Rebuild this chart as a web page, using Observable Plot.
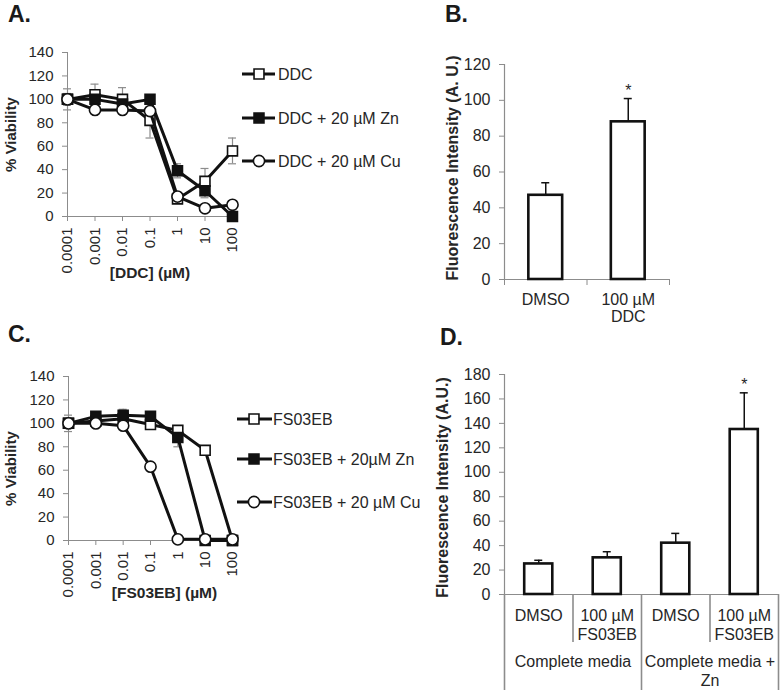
<!DOCTYPE html>
<html><head><meta charset="utf-8">
<script src="https://cdn.jsdelivr.net/npm/d3@7"></script>
<script src="https://cdn.jsdelivr.net/npm/@observablehq/plot@0.6"></script>
<style>
body{margin:0;background:#fff;font-family:"Liberation Sans",Arial,sans-serif;}
#fig{position:relative;width:781px;height:690px;overflow:hidden;background:#fff;}
#fig svg{position:absolute;}
</style></head><body><div id="fig"></div>
<script>
// ---------- data ----------
const doses = ["0.0001","0.001","0.01","0.1","1","10","100"];

// Panel A
const ddcNames = ["DDC", "DDC + 20 µM Zn", "DDC + 20 µM Cu"];
const ddcMean   = [100, 104, 100, 82, 15, 30, 56];
const ddcErr    = [9, 9, 10, 15, 3, 11, 11];
const ddcZnMean = [100, 100, 96, 100, 39, 22, 0];
const ddcZnErr  = [5, 4, 4, 3, 6, 6, 2];
const ddcCuMean = [100, 91, 91, 90, 17, 7, 10];
const ddcCuErr  = [2, 2, 2, 2, 2, 2, 2];

// Panel B
const bCats  = ["DMSO", "100 µM\nDDC"];
const bMeans = [47, 88];
const bErrs  = [7, 13];
const bStars = [false, true];

// Panel C
const fsNames = ["FS03EB", "FS03EB + 20µM Zn", "FS03EB + 20 µM Cu"];
const fsMean   = [100, 102, 104, 99, 94, 77, 0];
const fsErr    = [7, 3, 3, 2, 3, 3, 0];
const fsZnMean = [100, 106, 107, 106, 88, 0, 0];
const fsZnErr  = [4, 3, 5, 2, 8, 0, 0];
const fsCuMean = [100, 100, 98, 63, 1, 1, 1];
const fsCuErr  = [2, 2, 2, 2, 0, 0, 0];

// Panel D
const dCats   = ["DMSO", "100 µM\nFS03EB", "DMSO", "100 µM\nFS03EB"];
const dMeans  = [25, 30, 42, 135];
const dErrs   = [3, 5, 8, 30];
const dStars  = [false, false, false, true];
const dGroups = ["Complete media", "Complete media +\nZn"];

// ---------- styles ----------
const FONT = "Liberation Sans, Arial, sans-serif";
const AXIS = "#8c8c8c";
const TXT = "#262626";
const INK = "#111";
const symbols = ["square", "square", "circle"];
const fills = ["white", INK, "white"];

const fig = d3.select("#fig");
function place(svg, left, top) {
  svg.style.left = left + "px";
  svg.style.top = top + "px";
  svg.style.background = "transparent";
  svg.style.maxWidth = "none";
  svg.style.overflow = "visible";
  fig.node().appendChild(svg);
}

function viability({names, means, errs, yLabel, xLabel, height, marginTop, marginBottom, marginLeft, ylDx, ylDy, xlDx, xlDy}) {
  const rows = names.flatMap((s, k) => means[k].map((v, i) => ({s, k, i, v, e: errs[k][i]})));
  const withErr = rows.filter(d => d.e > 0);
  const marks = [
    Plot.ruleY([0], {stroke: AXIS}),
    Plot.ruleX([0], {stroke: AXIS}),
    Plot.axisY({ticks: d3.range(0, 141, 20), tickSize: 5, tickPadding: 9, stroke: AXIS, fill: TXT, label: null, fontSize: 15}),
    Plot.axisX({ticks: d3.range(doses.length), tickFormat: i => doses[i], tickRotate: -90, tickSize: 5, tickPadding: 6, stroke: AXIS, fill: TXT, label: null, fontSize: 15}),
    Plot.ruleX(withErr, {x: "i", y1: d => Math.max(0, d.v - d.e), y2: d => d.v + d.e, stroke: AXIS, strokeWidth: 1.2}),
    Plot.ruleY(withErr, {x1: "i", x2: "i", y: d => d.v + d.e, insetLeft: -4, insetRight: -4, stroke: AXIS, strokeWidth: 1.2}),
    Plot.ruleY(withErr, {x1: "i", x2: "i", y: d => Math.max(0, d.v - d.e), insetLeft: -4, insetRight: -4, stroke: AXIS, strokeWidth: 1.2})
  ];
  names.forEach((s, k) => {
    const r = rows.filter(d => d.k === k);
    marks.push(Plot.line(r, {x: "i", y: "v", stroke: INK, strokeWidth: 3}));
    marks.push(Plot.dot(r, {x: "i", y: "v", symbol: symbols[k], r: 5.6, fill: fills[k], stroke: INK, strokeWidth: 1.6}));
  });
  marks.push(Plot.text([yLabel], {frameAnchor: "left", textAnchor: "middle", dx: ylDx, dy: ylDy, rotate: -90, fontSize: 15, fontWeight: "bold", fill: TXT}));
  marks.push(Plot.text([xLabel], {frameAnchor: "bottom", dx: xlDx, dy: xlDy, fontSize: 15.5, fontWeight: "bold", fill: TXT}));
  return Plot.plot({
    width: 240, height, marginLeft, marginRight: 8, marginTop, marginBottom,
    x: {type: "linear", domain: [0, doses.length - 1]},
    y: {domain: [0, 140]},
    style: {fontFamily: FONT, fontSize: "15px", color: TXT},
    marks
  });
}

function barPanel({cats, means, errs, stars, yMax, yLabel, width, height, margins, ylDx, ylDy, lineHeight, extra}) {
  const rows = cats.map((c, i) => ({c, i, v: means[i], e: errs[i], star: stars[i]}));
  const n = cats.length;
  const marks = [
    Plot.ruleY([0], {stroke: AXIS, strokeWidth: 1.2}),
    Plot.ruleX([0], {stroke: AXIS, strokeWidth: 1.2}),
    Plot.axisY({ticks: d3.range(0, yMax + 1, 20), tickSize: 5, tickPadding: 9, stroke: AXIS, fill: TXT, label: null, fontSize: 16}),
    ...extra,
    Plot.ruleX(rows, {x: d => d.i + 0.5, y1: "v", y2: d => d.v + d.e, stroke: INK, strokeWidth: 1.5}),
    Plot.ruleY(rows, {x1: d => d.i + 0.5, x2: d => d.i + 0.5, y: d => d.v + d.e, insetLeft: -4, insetRight: -4, stroke: INK, strokeWidth: 1.5}),
    Plot.rectY(rows, {x1: d => d.i + 0.5 - 0.205, x2: d => d.i + 0.5 + 0.205, y1: 0, y2: "v", fill: "white", stroke: INK, strokeWidth: 2.6}),
    Plot.text(rows.filter(d => d.star), {x: d => d.i + 0.5, y: d => d.v + d.e, text: () => "*", dy: -8, fontSize: 16, fill: TXT}),
    Plot.text(rows, {x: d => d.i + 0.5, y: 0, text: "c", dy: 13, lineAnchor: "top", lineHeight, fontSize: 16, fill: TXT}),
    Plot.text([yLabel], {frameAnchor: "left", textAnchor: "middle", dx: ylDx, dy: ylDy, rotate: -90, fontSize: 16, fontWeight: "bold", fill: TXT})
  ];
  return Plot.plot({
    width, height, ...margins,
    x: {type: "linear", domain: [0, n]},
    y: {domain: [0, yMax]},
    style: {fontFamily: FONT, fontSize: "16px", color: TXT},
    marks
  });
}

// Panel A
place(viability({
  names: ddcNames, means: [ddcMean, ddcZnMean, ddcCuMean], errs: [ddcErr, ddcZnErr, ddcCuErr],
  yLabel: "% Viability", xLabel: "[DDC] (µM)",
  height: 290, marginTop: 52, marginBottom: 74, marginLeft: 67, ylDx: -56, ylDy: 0, xlDx: 0, xlDy: 61
}), 0, 0);

// Panel C
place(viability({
  names: fsNames, means: [fsMean, fsZnMean, fsCuMean], errs: [fsErr, fsZnErr, fsCuErr],
  yLabel: "% Viability", xLabel: "[FS03EB] (µM)",
  height: 300, marginTop: 56, marginBottom: 80, marginLeft: 68, ylDx: -57, ylDy: 10, xlDx: 14, xlDy: 57
}), 0, 320);

// Panel B
place(barPanel({
  cats: bCats, means: bMeans, errs: bErrs, stars: bStars, yMax: 120,
  yLabel: "Fluorescence Intensity (A. U.)", width: 391, height: 330,
  margins: {marginLeft: 114, marginRight: 112, marginTop: 64, marginBottom: 51},
  ylDx: -52, ylDy: -4, lineHeight: 1.08,
  extra: [Plot.axisX({ticks: d3.range(bCats.length + 1), tickFormat: () => "", tickSize: 6, stroke: AXIS, label: null})]
}), 390, 0);

// Panel D
const groupRows = dGroups.map((g, j) => ({g, x: j * 2 + 1}));
place(barPanel({
  cats: dCats, means: dMeans, errs: dErrs, stars: dStars, yMax: 180,
  yLabel: "Fluorescence Intensity (A.U.)", width: 391, height: 370,
  margins: {marginLeft: 114, marginRight: 3, marginTop: 54, marginBottom: 96},
  ylDx: -62, ylDy: 3, lineHeight: 1.18,
  extra: [
    Plot.axisX({ticks: [1, 3], tickFormat: () => "", tickSize: 48, stroke: AXIS, strokeWidth: 1.6, label: null}),
    Plot.axisX({ticks: [0, 2, 4], tickFormat: () => "", tickSize: 96, stroke: AXIS, strokeWidth: 1.6, label: null}),
    Plot.text(groupRows, {x: "x", y: 0, text: "g", dy: 59, lineAnchor: "top", lineHeight: 1.18, fontSize: 16, fill: TXT})
  ]
}), 390, 320);

// ---------- overlay: panel letters and legends ----------
const ov = fig.append("svg").attr("width", 781).attr("height", 690)
  .style("left", "0px").style("top", "0px").style("pointer-events", "none")
  .style("font-family", FONT);

const letters = [["A.", 8, 22], ["B.", 445, 22], ["C.", 8, 342], ["D.", 440, 345]];
ov.selectAll("text.letter").data(letters).join("text")
  .attr("class", "letter").attr("x", d => d[1]).attr("y", d => d[2])
  .attr("font-size", 23).attr("font-weight", "bold").attr("fill", "#1a1a1a").text(d => d[0]);

function legend(names, x1, x2, mx, tx, ys) {
  const g = ov.append("g");
  names.forEach((name, k) => {
    const y = ys[k];
    g.append("line").attr("x1", x1).attr("x2", x2).attr("y1", y).attr("y2", y)
      .attr("stroke", INK).attr("stroke-width", 3);
    const sym = d3.symbol(symbols[k] === "circle" ? d3.symbolCircle : d3.symbolSquare, Math.PI * 5.6 * 5.6);
    g.append("path").attr("d", sym()).attr("transform", `translate(${mx},${y})`)
      .attr("fill", fills[k]).attr("stroke", INK).attr("stroke-width", 1.6);
    g.append("text").attr("x", tx).attr("y", y).attr("dy", "0.35em")
      .attr("font-size", 16).attr("fill", TXT).text(name);
  });
}
legend(ddcNames, 242, 275, 259, 278, [74, 118, 161]);
legend(fsNames, 237, 272, 254, 273, [419, 459, 502]);
</script></body></html>
